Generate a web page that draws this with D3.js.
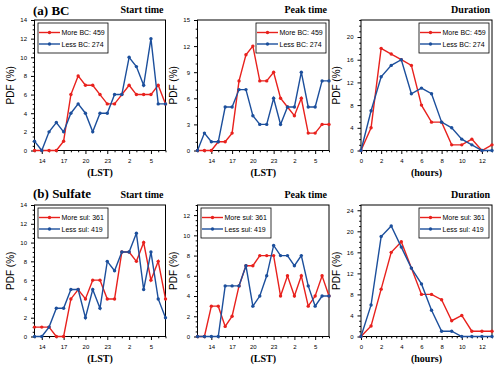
<!DOCTYPE html>
<html>
<head>
<meta charset="utf-8">
<script src="https://cdn.jsdelivr.net/npm/d3@7"></script>
<style>
  body { margin: 0; background: #fff; }
  svg text { font-family: 'Liberation Sans', Arial, sans-serif; fill: #000; }
  svg text.serif { font-family: 'Liberation Serif', 'Times New Roman', serif; font-weight: bold; }
</style>
</head>
<body>
<svg id="chart" width="500" height="369"></svg>
<script>
// hour categories on the x axes (LST, wrapping past midnight)
const startHours = [13, 14, 15, 16, 17, 18, 19, 20, 21, 22, 23, 0, 1, 2, 3, 4, 5, 6, 7]
const peakHours = [12, 13, 14, 15, 16, 17, 18, 19, 20, 21, 22, 23, 0, 1, 2, 3, 4, 5, 6, 7]
const durationHours = [0, 1, 2, 3, 4, 5, 6, 7, 8, 9, 10, 11, 12, 13]
const hourTicks = [14, 17, 20, 23, 2, 5]
const durationTicks = [0, 2, 4, 6, 8, 10, 12]

// (a) BC, PDF in %
const bcStartMore = [0, 0, 0, 0, 1, 6, 8, 7, 7, 6, 5, 5, 6, 7, 6, 6, 6, 7, 5]
const bcStartLess = [1, 0, 2, 3, 2, 4, 5, 4, 2, 4, 4, 6, 6, 10, 9, 7, 12, 5, 5]
const bcPeakMore = [0, 0, 0, 1, 1, 2, 8, 11, 12, 8, 8, 9, 6, 5, 4, 6, 2, 2, 3, 3]
const bcPeakLess = [0, 2, 1, 1, 5, 5, 7, 7, 4, 3, 3, 6, 3, 5, 5, 9, 5, 5, 8, 8]
const bcDurMore = [0, 4, 18, 17, 16, 15, 8, 5, 5, 1, 1, 2, 0, 1]
const bcDurLess = [0, 7, 13, 15, 16, 10, 11, 10, 5, 4, 2, 1, 0, 0]

// (b) Sulfate, PDF in %
const sulStartMore = [1, 1, 1, 0, 0, 4, 5, 4, 6, 6, 4, 4, 9, 9, 8, 10, 6, 8, 4]
const sulStartLess = [0, 0, 1, 3, 3, 5, 5, 2, 5, 3, 8, 7, 9, 9, 11, 5, 9, 4, 2]
const sulPeakMore = [0, 0, 3, 3, 1, 2, 5, 7, 7, 8, 8, 8, 4, 6, 4, 6, 3, 4, 6, 4]
const sulPeakLess = [0, 0, 0, 0, 5, 5, 5, 7, 3, 4, 6, 9, 8, 8, 7, 8, 5, 3, 4, 4]
const sulDurMore = [0, 2, 9, 16, 18, 13, 8, 8, 7, 3, 4, 1, 1, 1]
const sulDurLess = [0, 6, 19, 21, 17, 13, 10, 5, 1, 1, 0, 0, 0, 0]

const bcLabels = ['More BC: 459', 'Less BC: 274']
const sulLabels = ['More sul: 361', 'Less sul: 419']

const red = '#e8211d'
const blue = '#1c4f9c'

const cols = [[34.5, 165.5], [197.5, 329], [361, 492]]
const rows = [[20, 150.5], [205, 336.5]]

const panels = [
  { row: 0, col: 0, hours: startHours, ticks: hourTicks, more: bcStartMore, less: bcStartLess, yMax: 14, yStep: 2, minor: 0.5, xLabel: '(LST)', sub: 'Start time', labels: bcLabels, legend: 'left' },
  { row: 0, col: 1, hours: peakHours, ticks: hourTicks, more: bcPeakMore, less: bcPeakLess, yMax: 15, yStep: 3, minor: 1, xLabel: '(LST)', sub: 'Peak time', labels: bcLabels, legend: 'right' },
  { row: 0, col: 2, hours: durationHours, ticks: durationTicks, more: bcDurMore, less: bcDurLess, yMax: 23, yStep: 4, minor: 1, xLabel: '(hours)', sub: 'Duration', labels: bcLabels, legend: 'right' },
  { row: 1, col: 0, hours: startHours, ticks: hourTicks, more: sulStartMore, less: sulStartLess, yMax: 14, yStep: 2, minor: 0.5, xLabel: '(LST)', sub: 'Start time', labels: sulLabels, legend: 'left' },
  { row: 1, col: 1, hours: peakHours, ticks: hourTicks, more: sulPeakMore, less: sulPeakLess, yMax: 13, yStep: 2, minor: 0.5, xLabel: '(LST)', sub: 'Peak time', labels: sulLabels, legend: 'left' },
  { row: 1, col: 2, hours: durationHours, ticks: durationTicks, more: sulDurMore, less: sulDurLess, yMax: 25, yStep: 4, minor: 1, xLabel: '(hours)', sub: 'Duration', labels: sulLabels, legend: 'right' }
]

const svg = d3.select('#chart')

// row titles
svg.append('text').attr('class', 'serif').attr('x', 33).attr('y', 14.5)
  .style('font-size', '13px').text('(a) BC')
svg.append('text').attr('class', 'serif').attr('x', 33).attr('y', 197.5)
  .style('font-size', '13px').text('(b) Sulfate')

panels.forEach(p => {
  const [x0, x1] = cols[p.col]
  const [y0, y1] = rows[p.row]
  const x = d3.scaleLinear().domain([0, p.hours.length - 1]).range([x0, x1])
  const y = d3.scaleLinear().domain([0, p.yMax]).range([y1, y0])
  const g = svg.append('g')

  // y axis: major + minor ticks
  const yMajor = d3.range(0, p.yMax + 0.001, p.yStep)
  const yMinor = d3.range(0, p.yMax + 0.001, p.minor).filter(v => !yMajor.includes(v))
  g.append('g').attr('transform', `translate(${x0},0)`)
    .call(d3.axisLeft(y).tickValues(yMajor).tickSize(3.5).tickPadding(4))
    .call(a => a.select('.domain').remove())
    .call(a => a.selectAll('text').style('font-size', '6px'))
  g.append('g').attr('transform', `translate(${x0},0)`)
    .call(d3.axisLeft(y).tickValues(yMinor).tickSize(1.8).tickFormat(''))
    .call(a => a.select('.domain').remove())

  // x axis
  const xMajor = p.ticks.map(h => p.hours.indexOf(h))
  g.append('g').attr('transform', `translate(0,${y1})`)
    .call(d3.axisBottom(x).tickValues(xMajor).tickFormat(i => p.hours[i]).tickSize(3.5).tickPadding(5))
    .call(a => a.select('.domain').remove())
    .call(a => a.selectAll('text').style('font-size', '6px'))
  const xMinor = p.xLabel === '(hours)'
    ? d3.range(0, 13.01, 0.5).filter(v => !xMajor.includes(v))
    : d3.range(0, p.hours.length).filter(v => !xMajor.includes(v))
  g.append('g').attr('transform', `translate(0,${y1})`)
    .call(d3.axisBottom(x).tickValues(xMinor).tickSize(1.8).tickFormat(''))
    .call(a => a.select('.domain').remove())

  // plot frame
  g.append('rect').attr('x', x0).attr('y', y0)
    .attr('width', x1 - x0).attr('height', y1 - y0)
    .attr('fill', 'none').attr('stroke', '#000').attr('stroke-width', 1)

  // axis titles
  g.append('text')
    .attr('transform', `translate(${x0 - 21},${(y0 + y1) / 2}) rotate(-90)`)
    .attr('text-anchor', 'middle').style('font-size', '10px').text('PDF (%)')
  g.append('text').attr('class', 'serif')
    .attr('x', (x0 + x1) / 2).attr('y', y1 + 25.5)
    .attr('text-anchor', 'middle').style('font-size', '10px').text(p.xLabel)
  g.append('text').attr('class', 'serif')
    .attr('x', x1 - 2).attr('y', y0 - 7)
    .attr('text-anchor', 'end').style('font-size', '10px').text(p.sub)

  // series
  const line = d3.line().x((d, i) => x(i)).y(d => y(d))
  ;[[p.more, red], [p.less, blue]].forEach(([vals, color]) => {
    g.append('path').datum(vals).attr('d', line)
      .attr('fill', 'none').attr('stroke', color).attr('stroke-width', 1.4)
      .attr('stroke-linejoin', 'miter')
    g.selectAll(null).data(vals).join('circle')
      .attr('cx', (d, i) => x(i)).attr('cy', d => y(d)).attr('r', 1.7)
      .attr('fill', color)
  })

  // legend
  const lw = 70
  const lh = 30
  const lx = p.legend === 'left' ? x0 + 3.5 : x1 - lw - 3
  const ly = y0 + 3
  const lg = g.append('g').attr('transform', `translate(${lx},${ly})`)
  lg.append('rect').attr('width', lw).attr('height', lh)
    .attr('fill', '#fff').attr('stroke', '#000').attr('stroke-width', 0.8)
  ;[red, blue].forEach((color, k) => {
    const yy = 9.5 + k * 11.5
    lg.append('line').attr('x1', 1).attr('x2', 22).attr('y1', yy).attr('y2', yy)
      .attr('stroke', color).attr('stroke-width', 1.4)
    lg.append('circle').attr('cx', 11.5).attr('cy', yy).attr('r', 1.7).attr('fill', color)
    lg.append('text').attr('x', 23.5).attr('y', yy + 2.5)
      .style('font-size', '7px').text(p.labels[k])
  })
})
</script>
</body>
</html>
